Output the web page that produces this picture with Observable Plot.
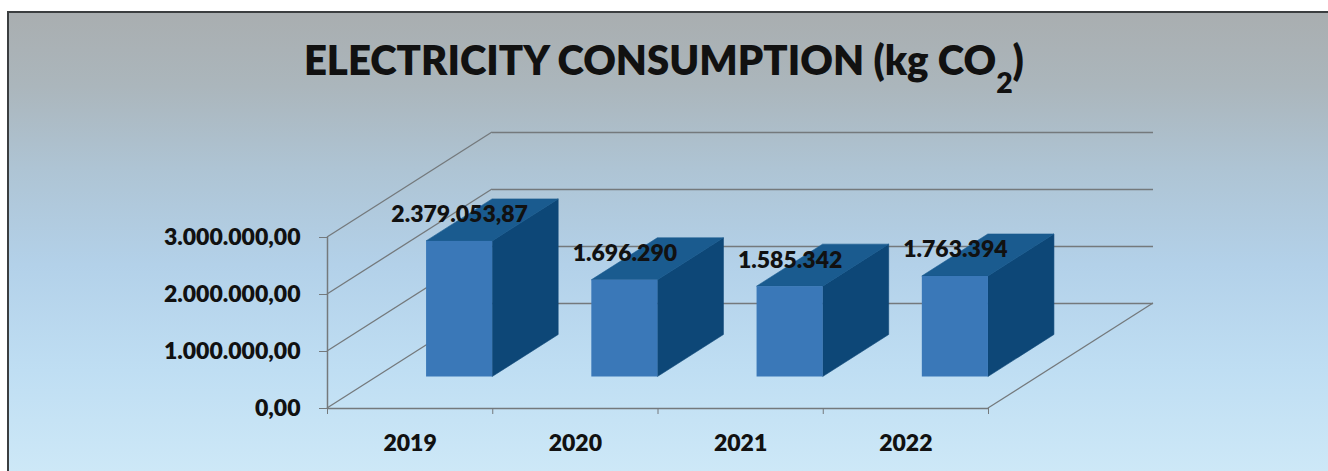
<!DOCTYPE html>
<html>
<head>
<meta charset="utf-8">
<script src="https://cdn.jsdelivr.net/npm/d3@7"></script>
<script src="https://cdn.jsdelivr.net/npm/@observablehq/plot@0.6"></script>
<style>
  html, body { margin: 0; padding: 0; background: #ffffff; }
  #frame { position: relative; width: 1328px; height: 471px; overflow: hidden; background: #ffffff; }
  #panel {
    position: absolute; left: 7px; top: 11px; right: 0; bottom: 0;
    border-top: 2px solid #3b3e40; border-left: 2px solid #3b3e40;
    background: linear-gradient(to bottom, #a9aeb0 0%, #abb6bc 16%, #aec4d4 34%, #b3d1e9 55%, #bfdef3 78%, #cde8f7 100%);
  }
  #title {
    position: absolute; left: 0; top: 39px; width: 1328px; text-align: center;
    font-family: Lato, "Open Sans", sans-serif; font-weight: 800; font-size: 41px; line-height: 41px;
    color: #111111; white-space: nowrap;
  }
  #title span { display: inline-block; transform-origin: 50% 50%; }
  #title sub { font-size: 29px; vertical-align: -18px; line-height: 0; }
  #chart { position: absolute; left: 0; top: 110px; }
</style>
</head>
<body>
<div id="frame">
  <div id="panel"></div>
  <div id="title"><span id="titleText">ELECTRICITY CONSUMPTION (kg CO<sub>2</sub>)</span></div>
  <div id="chart"></div>
</div>
<script>
// ---- data ----
const categories = ["2019", "2020", "2021", "2022"];
const values = [2379053.87, 1696290, 1585342, 1763394];
const valueLabels = ["2.379.053,87", "1.696.290", "1.585.342", "1.763.394"];
const yTicks = [0, 1000000, 2000000, 3000000];

// ---- derived tables ----
const rows = categories.map((c, i) => ({cat: c, i, value: values[i], label: valueLabels[i]}));
const xBoundaries = d3.range(categories.length + 1);
const xCenters = categories.map((c, i) => i + 0.5);

const fmt = d3.formatLocale({decimal: ",", thousands: ".", grouping: [3], currency: ["", ""]}).format(",.2f");

// ---- 3D styling ----
const DEPTH = [165, -105];     // pixel vector of the chart depth
const FRONT = 0.3, BACK = 0.7; // bar depth (fraction of chart depth)
const GAP = 0.3;               // bar inset within a category
const gridColor = "#74797c";
const frontFill = "#3a78b8", sideFill = "#0d4777", topFill = "#1a5b8f";
const FS = 23, FW = "800";

function sideWall() {
  return (index, scales) => {
    const {x, y} = scales;
    const g = d3.create("svg:g").attr("stroke", gridColor).attr("stroke-width", 1.3).attr("fill", "none");
    for (const v of yTicks) {
      const x0 = x(0), y0 = y(v);
      g.append("line").attr("x1", x0).attr("y1", y0).attr("x2", x0 + DEPTH[0]).attr("y2", y0 + DEPTH[1]);
    }
    const xr = x(categories.length), y0 = y(0);
    g.append("line").attr("x1", xr).attr("y1", y0).attr("x2", xr + DEPTH[0]).attr("y2", y0 + DEPTH[1]);
    return g.node();
  };
}

function barFaces(face, fill) {
  return (index, scales) => {
    const {x, y} = scales;
    const g = d3.create("svg:g").attr("fill", fill).attr("stroke", fill).attr("stroke-width", 0.6);
    const fx = DEPTH[0] * FRONT, fy = DEPTH[1] * FRONT, bx = DEPTH[0] * BACK, by = DEPTH[1] * BACK;
    for (const r of rows) {
      const xl = x(r.i + GAP), xr = x(r.i + 1 - GAP), y0 = y(0), yv = y(r.value);
      const pts = face === "side"
        ? [[xr + fx, y0 + fy], [xr + bx, y0 + by], [xr + bx, yv + by], [xr + fx, yv + fy]]
        : [[xl + fx, yv + fy], [xr + fx, yv + fy], [xr + bx, yv + by], [xl + bx, yv + by]];
      g.append("polygon").attr("points", pts.map(p => p.join(",")).join(" "));
    }
    return g.node();
  };
}

const chart = Plot.plot({
  width: 1328,
  height: 361,
  marginLeft: 327,
  marginRight: 340,
  marginTop: 127,
  marginBottom: 63,
  x: {domain: [0, categories.length]},
  y: {domain: [0, 3000000]},
  style: {
    background: "transparent",
    fontFamily: "Lato, 'Open Sans', sans-serif",
    fontSize: FS + "px",
    fontWeight: FW,
    color: "#111111",
    overflow: "visible"
  },
  marks: [
    // back wall gridlines
    Plot.ruleY(yTicks, {x1: 0, x2: categories.length, dx: DEPTH[0], dy: DEPTH[1], stroke: gridColor, strokeWidth: 1.4}),
    // side wall & floor diagonals
    sideWall(),
    // front axis lines
    Plot.ruleX([0], {y1: 0, y2: 3000000, stroke: gridColor, strokeWidth: 1.5}),
    Plot.ruleY([0], {x1: 0, x2: categories.length, stroke: gridColor, strokeWidth: 1.5}),
    Plot.axisY({ticks: yTicks, tickFormat: fmt, tickSize: 8, tickPadding: 19, stroke: gridColor, fill: "#111111", fontSize: FS, fontWeight: FW, label: null}),
    Plot.axisX({ticks: xBoundaries, tickSize: 6, tickFormat: () => "", stroke: gridColor, label: null}),
    Plot.axisX({ticks: xCenters, tickSize: 0, tickPadding: 26, tickFormat: v => categories[Math.floor(v)], fill: "#111111", fontSize: FS, fontWeight: FW, label: null}),
    // bars
    barFaces("side", sideFill),
    barFaces("top", topFill),
    Plot.rect(rows, {x1: d => d.i + GAP, x2: d => d.i + 1 - GAP, y1: 0, y2: "value", dx: DEPTH[0] * FRONT, dy: DEPTH[1] * FRONT, fill: frontFill}),
    // value labels
    Plot.text(rows, {x: d => d.i + 0.5, y: "value", text: "label", dx: DEPTH[0] * FRONT, dy: -58, fill: "#111111", fontSize: FS, fontWeight: FW})
  ]
});
document.getElementById("chart").appendChild(chart);

// fit the title to the reference width
const t = document.getElementById("titleText");
const w = t.getBoundingClientRect().width;
t.style.transform = `scaleX(${720 / w})`;
</script>
</body>
</html>
